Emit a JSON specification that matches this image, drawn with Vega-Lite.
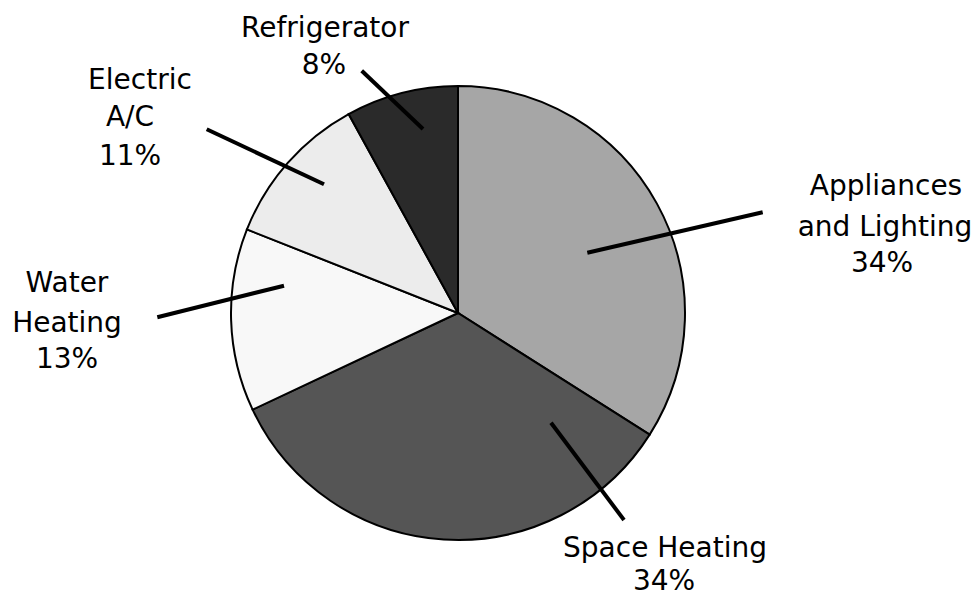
{
  "$schema": "https://vega.github.io/schema/vega-lite/v6.json",
  "width": 916,
  "height": 570,
  "autosize": {"type": "none"},
  "padding": {"left": 0, "top": 28, "right": 61, "bottom": 0},
  "background": "white",
  "config": {"view": {"stroke": null}},
  "datasets": {
    "slices": [
      {"category": "Appliances and Lighting", "share": 34, "order": 1},
      {"category": "Space Heating", "share": 34, "order": 2},
      {"category": "Water Heating", "share": 13, "order": 3},
      {"category": "Electric A/C", "share": 11, "order": 4},
      {"category": "Refrigerator", "share": 8, "order": 5}
    ],
    "leaders": [
      {"category": "Refrigerator", "x": -42.42, "y": 106.74, "x2": -15.42, "y2": 81.06},
      {"category": "Electric A/C", "x": -110.70, "y": 80.93, "x2": -59.03, "y2": 56.70},
      {"category": "Water Heating", "x": -132.47, "y": -1.89, "x2": -76.65, "y2": 12.03},
      {"category": "Appliances and Lighting", "x": 56.96, "y": 26.56, "x2": 134.23, "y2": 44.36},
      {"category": "Space Heating", "x": 40.97, "y": -48.33, "x2": 73.13, "y2": -91.19}
    ],
    "labels": [
      {"text": "Refrigerator", "x": -58.59, "y": 121.59},
      {"text": "8%", "x": -59.03, "y": 105.29},
      {"text": "Electric", "x": -140.09, "y": 98.68},
      {"text": "A/C", "x": -144.49, "y": 82.38},
      {"text": "11%", "x": -144.49, "y": 65.20},
      {"text": "Water", "x": -172.25, "y": 9.38},
      {"text": "Heating", "x": -172.25, "y": -8.24},
      {"text": "13%", "x": -172.25, "y": -24.23},
      {"text": "Appliances", "x": 188.55, "y": 51.98},
      {"text": "and Lighting", "x": 188.11, "y": 33.92},
      {"text": "34%", "x": 186.78, "y": 18.19},
      {"text": "Space Heating", "x": 91.19, "y": -107.36},
      {"text": "34%", "x": 90.75, "y": -122.2}
    ]
  },
  "layer": [
    {
      "data": {"name": "slices"},
      "mark": {"type": "arc", "outerRadius": 227, "stroke": "black", "strokeWidth": 2},
      "encoding": {
        "theta": {"field": "share", "type": "quantitative", "stack": true},
        "order": {"field": "order", "type": "quantitative"},
        "color": {
          "field": "category",
          "type": "nominal",
          "scale": {
            "domain": ["Appliances and Lighting", "Space Heating", "Water Heating", "Electric A/C", "Refrigerator"],
            "range": ["#a6a6a6", "#555555", "#f8f8f8", "#ececec", "#2a2a2a"]
          },
          "legend": null
        }
      }
    },
    {
      "data": {"name": "leaders"},
      "mark": {"type": "rule", "stroke": "black", "strokeWidth": 4, "strokeCap": "butt"},
      "encoding": {
        "x": {"field": "x", "type": "quantitative", "scale": {"domain": [-201.76, 201.76], "nice": false, "zero": false}, "axis": null},
        "y": {"field": "y", "type": "quantitative", "scale": {"domain": [-125.55, 125.55], "nice": false, "zero": false}, "axis": null},
        "x2": {"field": "x2"},
        "y2": {"field": "y2"}
      }
    },
    {
      "data": {"name": "labels"},
      "mark": {"type": "text", "font": "DejaVu Sans", "fontSize": 28, "align": "center", "baseline": "alphabetic", "color": "black"},
      "encoding": {
        "x": {"field": "x", "type": "quantitative", "scale": {"domain": [-201.76, 201.76], "nice": false, "zero": false}, "axis": null},
        "y": {"field": "y", "type": "quantitative", "scale": {"domain": [-125.55, 125.55], "nice": false, "zero": false}, "axis": null},
        "text": {"field": "text", "type": "nominal"}
      }
    }
  ]
}
